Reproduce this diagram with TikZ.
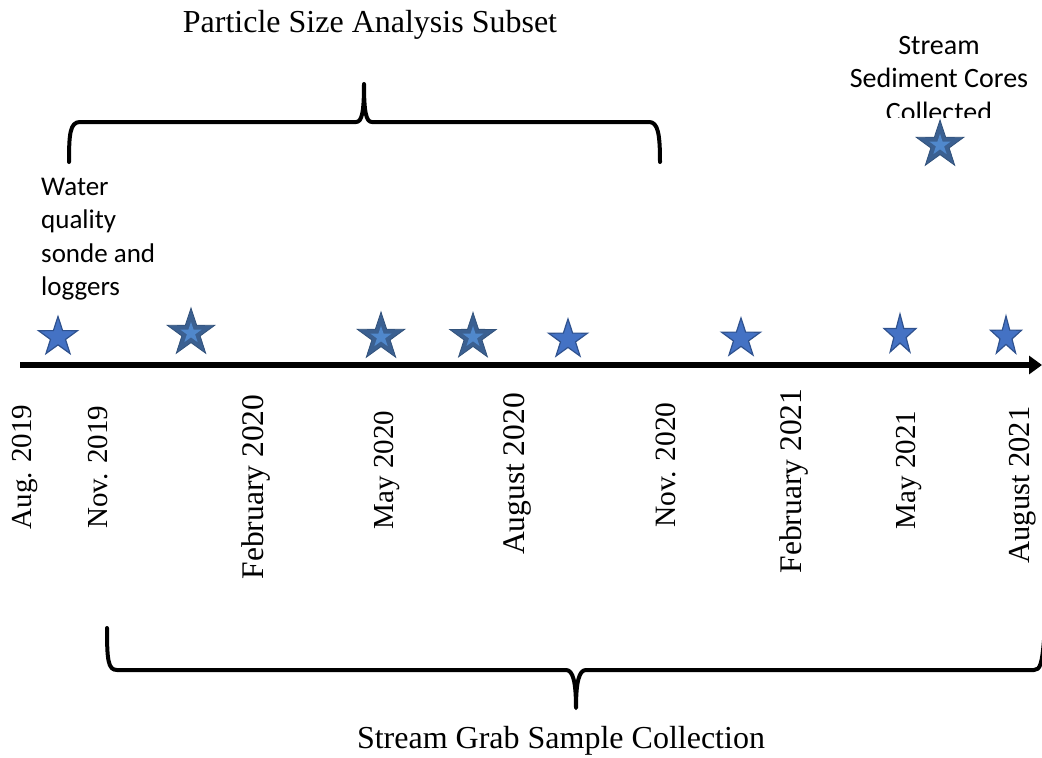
\documentclass[tikz,border=0pt]{standalone}
\usepackage{fontspec}
\setmainfont{Liberation Serif}
\newfontfamily\notefont{Carlito}
\usetikzlibrary{arrows.meta,shapes.geometric}

\definecolor{starblue}{RGB}{68,114,196}
\definecolor{starrim}{RGB}{47,82,143}
\definecolor{stardark}{RGB}{59,96,145}
\definecolor{starcore}{RGB}{80,136,204}

\tikzset{
	datelbl/.style={rotate=90, inner sep=0pt, font=\fontsize{#1}{34}\selectfont},
	notelbl/.style={inner sep=0pt, font=\notefont\fontsize{#1}{33.5}\selectfont},
	spanlbl/.style={inner sep=0pt, font=\fontsize{32}{38}\selectfont},
	brace/.style={line width=4pt, line cap=round, line join=round},
	starbase/.style={star, star points=5, star point ratio=2.6, inner sep=0pt, transform shape},
	brightstar/.style={starbase, fill=starblue, draw=starrim, line width=1.2pt},
	darkstar/.style={starbase, fill=stardark, draw=stardark!85!black, line width=0.8pt},
}

\begin{document}
\begin{tikzpicture}[x=1pt, y=-1pt]
		%%%%% START %%%%%
		\useasboundingbox (0,0) rectangle (1042,758);
		
		\coordinate (t0) at (20,365);
		\coordinate (t1) at (1042,365);
		\draw[line width=6pt, -{Triangle[length=13pt,width=18pt]}] (t0) -- (t1);
		
		\foreach \x/\y/\fs/\txt [count=\i] in {25/467/29/Aug. 2019, 98/467/29/Nov. 2019, 256/487/31.5/February 2020, 387/470/29/May 2020, 517/474/31.5/August 2020, 666/465/29.5/Nov. 2020, 794/481/31.5/February 2021, 909/470/29/May 2021, 1023/485/30.5/August 2021}
			\node[datelbl=\fs] (d\i) at (\x,\y) {\txt};
		
		% plain stars, the last two a bit narrower
		\foreach \x/\y/\r/\sx [count=\i] in {58/337/20.5/1, 568/339.5/20.5/1, 741/338.5/20.5/1, 900/335/21/0.8, 1006/336.5/20.5/0.8}
		{
			\begin{scope}[shift={(\x,\y)}, xscale=\sx]
				\node[brightstar, minimum size=2*\r] (b\i) {};
			\end{scope}
		}
		
		% shaded stars with a light core
		\foreach \x/\y/\r [count=\i] in {191/333/25, 381/337/25, 473/337/24.5, 940/145/25}
		{
			\node[darkstar, minimum size=2*\r] (k\i) at (\x,\y) {};
			\node[darkstar, fill=starcore, draw=none, minimum size=0.9*\r] (k\i c) at (k\i) {};
		}
		
		\coordinate (pl) at (69,162);
		\coordinate (pr) at (660,162);
		\coordinate (ptip) at (364,84);
		\draw[brace] (pl) .. controls (69,134) and (70,122) .. (80,122) -- (356,122) .. controls (362,122) and (364,112) .. (ptip) .. controls (364,112) and (366,122) .. (372,122) -- (649,122) .. controls (658,122) and (660,134) .. (pr);
		
		\coordinate (gl) at (107,628);
		\coordinate (gtip) at (576,708);
		\coordinate (gr) at (1044,640);
		\draw[brace] (gl) .. controls (107,660) and (108,670) .. (117,670) -- (566,670) .. controls (573,670) and (576,682) .. (gtip) .. controls (576,682) and (579,670) .. (586,670) -- (1034,670) .. controls (1040,670) and (1042,664) .. (gr);
		
		\node[spanlbl] (psa) at (370,25) {Particle Size Analysis Subset};
		\node[spanlbl] (sgs) at (561,741) {Stream Grab Sample Collection};
		
		\node[notelbl=27, align=left, anchor=west] (wq) at (41,239) {Water\\quality\\sonde and\\loggers};
		\begin{scope}
			\clip (840,0) rectangle (1042,117);
			\node[notelbl=28, align=center] (sc) at (939,79) {Stream\\Sediment Cores\\Collected};
		\end{scope}
		
		%%%%% END %%%%%
\end{tikzpicture}
\end{document}
